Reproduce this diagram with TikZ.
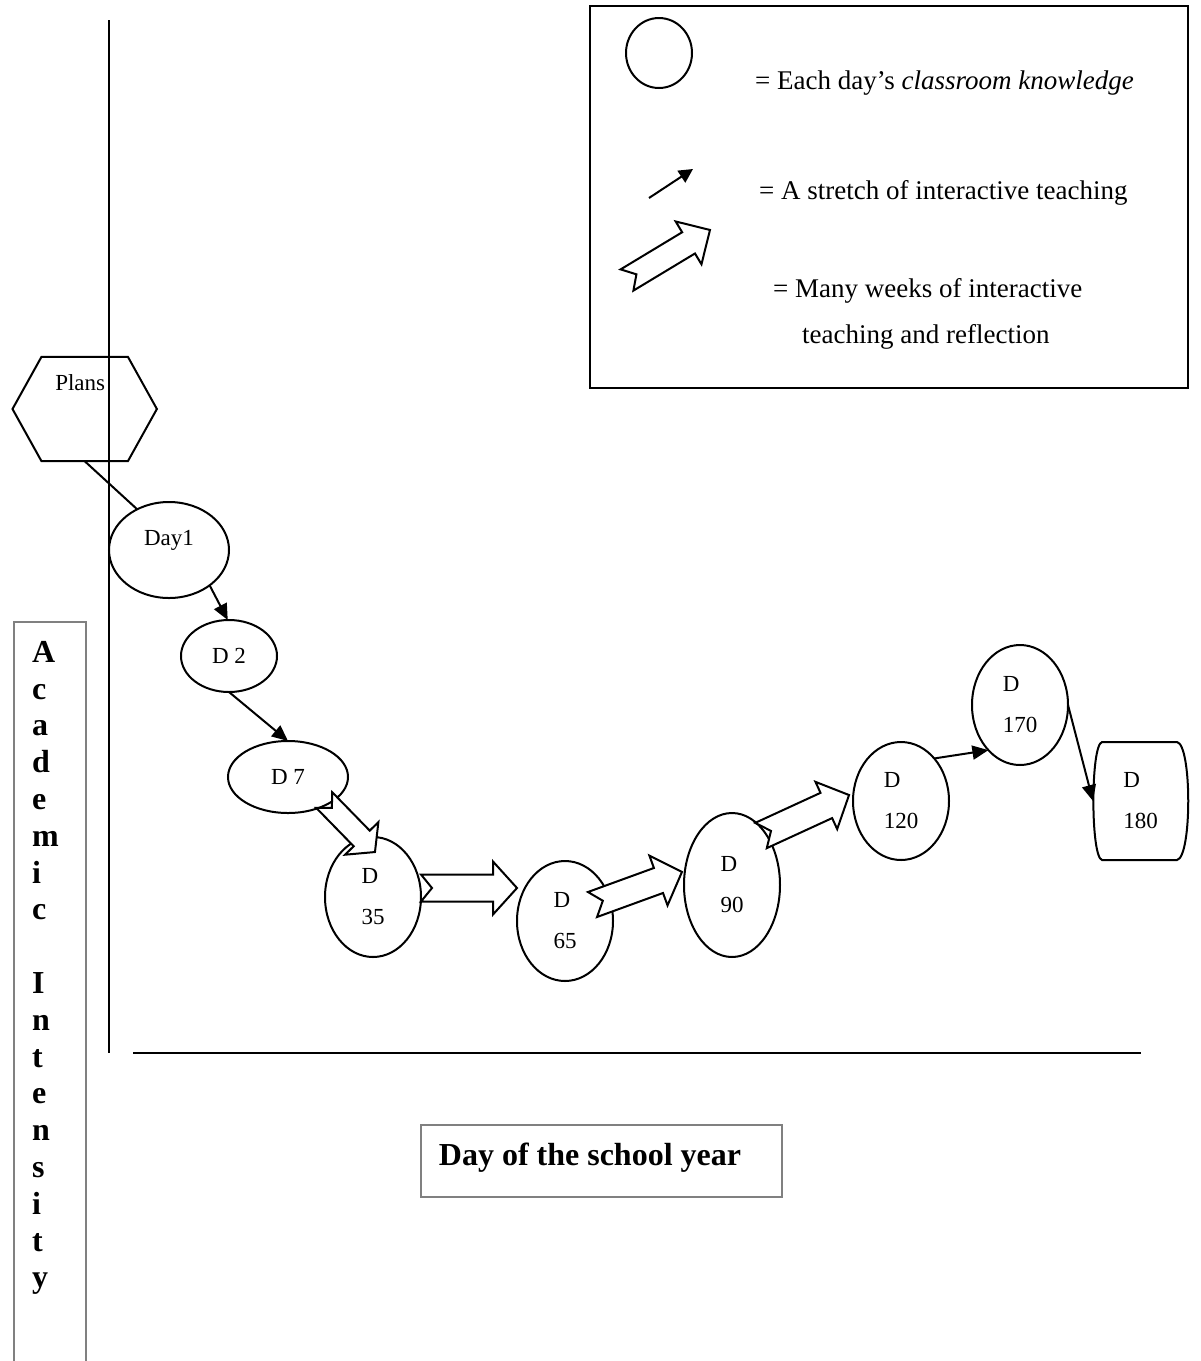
\documentclass[tikz,border=0pt]{standalone}
\usepackage{fontspec}
\setmainfont{Liberation Serif}
\usetikzlibrary{arrows.meta,shapes.geometric,calc}
\newcommand{\mydayfont}{\fontsize{23}{41}\selectfont}
\newcommand{\mylegfont}{\fontsize{27}{32}\selectfont}
\newcommand{\myboldfont}{\bfseries\fontsize{32}{36.8}\selectfont}
\tikzset{
  ln/.style={line width=2pt},
  day/.style={ellipse, draw, line width=2pt, fill=white, inner sep=0pt, outer sep=0pt, align=left, font=\mydayfont},
  thinarr/.style={line width=2pt, -{Triangle[length=16pt,width=14pt]}},
  blockarrow/.style={draw, fill=white, line width=2pt, line join=miter},
  graybox/.style={draw=black!50, line width=1.8pt},
  legtext/.style={anchor=base west, inner sep=0pt, font=\mylegfont},
}
% #1 tail point, #2 angle, #3 length, #4 half shaft width, #5 half head width, #6 head length
\newcommand{\blockarr}[6]{%
  \draw[blockarrow, shift={(#1)}, rotate=#2]
    (0,#4) -- ({#3-#6},#4) -- ({#3-#6},#5) -- (#3,0) -- ({#3-#6},-#5)
    -- ({#3-#6},-#4) -- (0,-#4) -- (11,0) -- cycle;}
\begin{document}
\begin{tikzpicture}[x=1pt,y=-1pt]
\useasboundingbox (0,0) rectangle (1201,1361);

% legend
\node[draw, line width=2.5pt, minimum width=598pt, minimum height=382pt, inner sep=0pt] (legend) at (889,197) {};
\node[day, minimum width=66pt, minimum height=70pt] (legcirc) at (659,53) {};
\node[legtext] (leg1) at (755,89) {= Each day’s \textit{classroom knowledge}};
\coordinate (la1) at (649,198);
\coordinate (la2) at (693,169);
\draw[line width=2pt, -{Triangle[length=14pt,width=14pt]}] (la1) -- (la2);
\node[legtext] (leg2) at (759,199) {= A stretch of interactive teaching};
\coordinate (ba0) at (627,280);
\blockarr{ba0}{31.1}{96.9}{12.4}{25}{25}
\node[legtext] (leg3) at (773,297) {= Many weeks of interactive};
\node[legtext] (leg4) at (802,343) {teaching and reflection};

% axes
\coordinate (ytop) at (109,20);
\coordinate (ybot) at (109,1053);
\draw[ln] (ytop) -- (ybot);
\coordinate (xleft) at (133,1053);
\coordinate (xright) at (1141,1053);
\draw[ln] (xleft) -- (xright);

% plans
\node[minimum width=144pt, minimum height=104pt, inner sep=0pt, text height=16pt, text depth=54pt, font=\mydayfont] (plans) at (84.7,409) {Plans\hspace*{9pt}};
\draw[ln] (plans.west) -- ([xshift=29pt]plans.north west) -- ([xshift=-29pt]plans.north east)
  -- (plans.east) -- ([xshift=-29pt]plans.south east) -- ([xshift=29pt]plans.south west) -- cycle;

% day nodes
\node[day, minimum width=120pt, minimum height=96pt, text height=16pt, text depth=25pt] (day1) at (169,550) {Day1};
\draw[ln] (plans.south) -- (day1.128);
\node[day, minimum width=96pt, minimum height=72pt] (d2) at (229,656) {D 2};
\node[day, minimum width=120pt, minimum height=72pt] (d7) at (288,777) {D 7};
\node[day, minimum width=96pt, minimum height=120pt] (d35) at (373,897) {D\\35};
\coordinate (ba1) at (324.2,800);
\blockarr{ba1}{-45.7}{72.7}{11.2}{23.3}{19}
\coordinate (ba2) at (421,888);
\blockarr{ba2}{0}{96}{13.5}{26.5}{24}
\node[day, minimum width=96pt, minimum height=120pt] (d65) at (565,921) {D\\65};
\coordinate (ba3) at (592.5,904.5);
\blockarr{ba3}{20}{95.2}{13.3}{26.5}{25}
\node[day, minimum width=96pt, minimum height=144pt] (d90) at (732,885) {D\\90};
\coordinate (ba4) at (761,835.5);
\blockarr{ba4}{24.7}{96.9}{13.9}{26}{25}
\node[day, minimum width=96pt, minimum height=118pt] (d120) at (901,801) {D\\120};
\node[day, minimum width=96pt, minimum height=120pt] (d170) at (1020,705) {D\\170};
\node[minimum width=95pt, minimum height=118pt, inner sep=0pt, outer sep=0pt, align=left, font=\mydayfont] (d180) at (1140.5,801) {D\\180};
\draw[ln] ([shift={(-38.5,-59)}]d180.center) -- ([shift={(36.5,-59)}]d180.center)
  .. controls ([shift={(51.5,-56)}]d180.center) and ([shift={(51.5,56)}]d180.center) .. ([shift={(36.5,59)}]d180.center)
  -- ([shift={(-38.5,59)}]d180.center)
  .. controls ([shift={(-50,56)}]d180.center) and ([shift={(-50,-56)}]d180.center) .. ([shift={(-38.5,-59)}]d180.center) -- cycle;

% thin arrows
\draw[thinarr] (day1.-41) -- (d2.92);
\draw[thinarr] (d2.south) -- (d7.north);
\draw[thinarr] (d120.52) -- (d170.235);
\draw[thinarr] (d170.east) -- (d180.west);

% axis labels
\node[graybox, minimum width=72pt, minimum height=780pt, inner sep=0pt, anchor=north west] (ybox) at (13,621) {};
\node[anchor=north west, inner sep=0pt, align=left, font=\myboldfont] (ylabel) at (32,641)
  {A\\c\\a\\d\\e\\m\\i\\c\\\mbox{}\\I\\n\\t\\e\\n\\s\\i\\t\\y};
\node[graybox, minimum width=361pt, minimum height=72pt, inner sep=0pt] (xbox) at (601.5,1161) {};
\node[anchor=base, inner sep=0pt, font=\myboldfont] (xlabel) at (590,1165) {Day of the school year};
\end{tikzpicture}
\end{document}
